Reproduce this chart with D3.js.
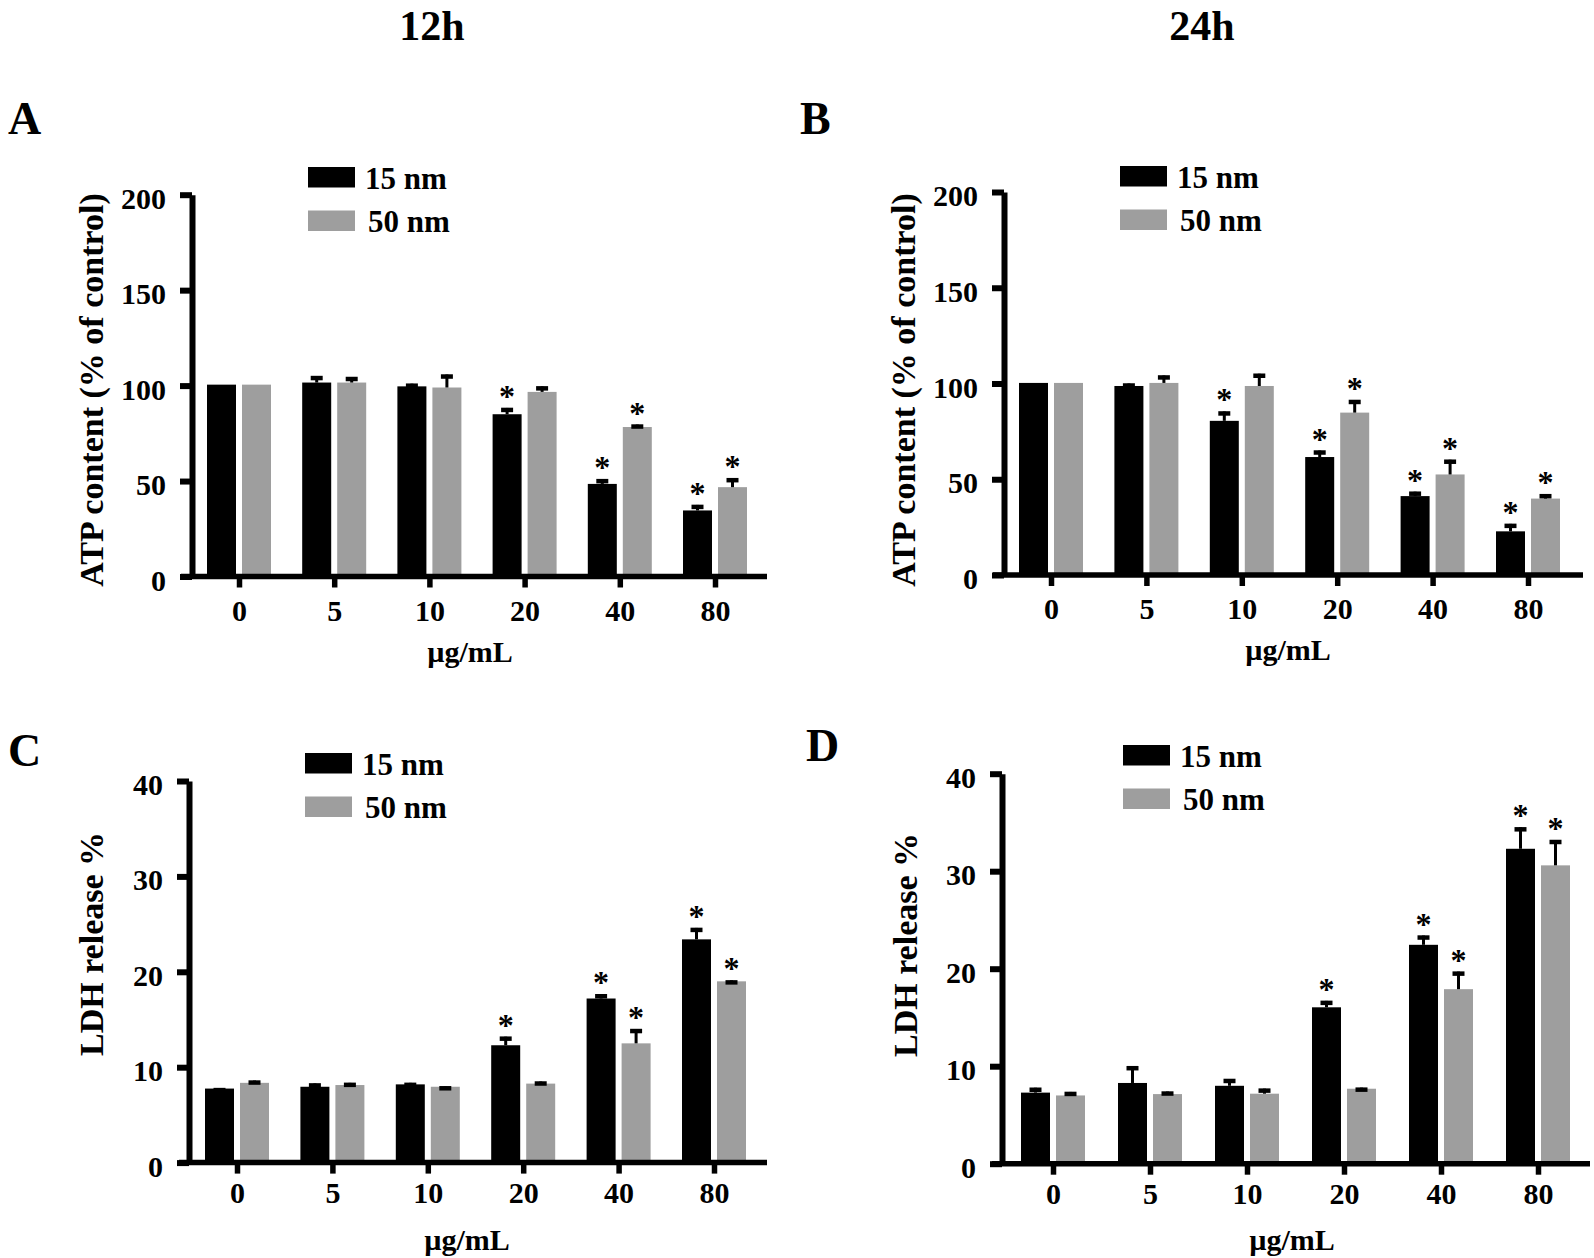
<!DOCTYPE html>
<html>
<head>
<meta charset="utf-8">
<script src="https://cdn.jsdelivr.net/npm/d3@7"></script>
<style>
  html, body { margin: 0; padding: 0; background: #fff; }
  svg { display: block; }
  text { font-family: "Liberation Serif", "Times New Roman", serif; font-weight: bold; fill: #000; }
</style>
</head>
<body>
<svg id="chart" width="1594" height="1258"></svg>
<script>
// ---------------- DATA ----------------
const categories = ["0", "5", "10", "20", "40", "80"];
const seriesNames = ["15 nm", "50 nm"];
const xTitle = "µg/mL";
const columnTitles = ["12h", "24h"];

const atpTicks = [0, 50, 100, 150, 200];
const ldhTicks = [0, 10, 20, 30, 40];

// Panel A: ATP, 12h
const atp12_15 = [100.5, 101.6, 99.6, 85.0, 48.5, 34.6];
const atp12_15_err = [0, 3.4, 1.4, 3.3, 2.5, 2.9];
const atp12_50 = [100.5, 101.6, 99.0, 96.7, 78.3, 46.8];
const atp12_50_err = [0, 2.9, 6.8, 2.9, 1.3, 4.7];
const atp12_15_sig = [false, false, false, true, true, true];
const atp12_50_sig = [false, false, false, false, true, true];

// Panel B: ATP, 24h
const atp24_15 = [100.3, 98.7, 80.5, 61.6, 41.2, 22.8];
const atp24_15_err = [0, 1.3, 4.9, 3.4, 2.3, 3.9];
const atp24_50 = [100.3, 100.3, 98.7, 84.8, 52.5, 39.9];
const atp24_50_err = [0, 3.9, 6.4, 6.6, 7.7, 2.3];
const atp24_15_sig = [false, false, true, true, true, true];
const atp24_50_sig = [false, false, false, true, true, true];

// Panel C: LDH, 12h
const ldh12_15 = [7.76, 7.95, 8.2, 12.3, 17.2, 23.4];
const ldh12_15_err = [0.05, 0.35, 0.16, 0.9, 0.45, 1.2];
const ldh12_50 = [8.36, 8.13, 7.95, 8.28, 12.5, 19.0];
const ldh12_50_err = [0.24, 0.23, 0.05, 0.22, 1.5, 0.1];
const ldh12_15_sig = [false, false, false, true, true, true];
const ldh12_50_sig = [false, false, false, false, true, true];

// Panel D: LDH, 24h
const ldh24_15 = [7.29, 8.28, 7.99, 16.04, 22.45, 32.3];
const ldh24_15_err = [0.5, 1.72, 0.7, 0.66, 0.95, 2.2];
const ldh24_50 = [7.0, 7.14, 7.18, 7.69, 17.9, 30.6];
const ldh24_50_err = [0.36, 0.26, 0.52, 0.11, 1.8, 2.6];
const ldh24_15_sig = [false, false, false, true, true, true];
const ldh24_50_sig = [false, false, false, false, true, true];

// ---------------- LAYOUT ----------------
const colors = ["#000000", "#9e9e9e"];
const panels = [
  { letter: "A", letterX: 8, letterY: 134, yTitle: "ATP content (% of control)", ticks: atpTicks,
    s15: atp12_15, e15: atp12_15_err, s50: atp12_50, e50: atp12_50_err, g15: atp12_15_sig, g50: atp12_50_sig,
    axisX: 192, y0: 576.5, yTop: 194.7, c0: 239, c5: 715, xs: 181, xe: 767, lblPad: 12,
    titleX: 103, titleY: 390, xtX: 470, xtY: 662, legX: 308, legY: 167 },
  { letter: "B", letterX: 800, letterY: 134, yTitle: "ATP content (% of control)", ticks: atpTicks,
    s15: atp24_15, e15: atp24_15_err, s50: atp24_50, e50: atp24_50_err, g15: atp24_15_sig, g50: atp24_50_sig,
    axisX: 1004, y0: 575, yTop: 192, c0: 1051, c5: 1528, xs: 993, xe: 1583, lblPad: 12,
    titleX: 915, titleY: 390, xtX: 1288, xtY: 660, legX: 1120, legY: 166 },
  { letter: "C", letterX: 8, letterY: 766, yTitle: "LDH release %", ticks: ldhTicks,
    s15: ldh12_15, e15: ldh12_15_err, s50: ldh12_50, e50: ldh12_50_err, g15: ldh12_15_sig, g50: ldh12_50_sig,
    axisX: 189, y0: 1162.6, yTop: 781, c0: 237, c5: 714, xs: 179, xe: 767, lblPad: 8,
    titleX: 103, titleY: 944, xtX: 467, xtY: 1250, legX: 305, legY: 753 },
  { letter: "D", letterX: 806, letterY: 761, yTitle: "LDH release %", ticks: ldhTicks,
    s15: ldh24_15, e15: ldh24_15_err, s50: ldh24_50, e50: ldh24_50_err, g15: ldh24_15_sig, g50: ldh24_50_sig,
    axisX: 1002, y0: 1163.7, yTop: 773.7, c0: 1053, c5: 1538, xs: 992, xe: 1590, lblPad: 8,
    titleX: 917, titleY: 945, xtX: 1292, xtY: 1250, legX: 1123, legY: 745 }
];

const svg = d3.select("#chart");

// Column titles
svg.append("text").attr("x", 432).attr("y", 40).attr("text-anchor", "middle")
  .attr("font-size", 42).text(columnTitles[0]);
svg.append("text").attr("x", 1202).attr("y", 40).attr("text-anchor", "middle")
  .attr("font-size", 42).text(columnTitles[1]);

function drawPanel(p) {
  const g = svg.append("g");
  const yMax = p.ticks[p.ticks.length - 1];
  const y = d3.scaleLinear().domain([0, yMax]).range([p.y0, p.yTop]);
  const x = d3.scalePoint().domain(categories).range([p.c0, p.c5]);
  const xs = d3.scaleBand().domain(seriesNames).range([-32, 32]).paddingInner(0.1714);

  const rows = [];
  categories.forEach((c, i) => {
    rows.push({ c, s: seriesNames[0], v: p.s15[i], e: p.e15[i], sig: p.g15[i], col: colors[0] });
    rows.push({ c, s: seriesNames[1], v: p.s50[i], e: p.e50[i], sig: p.g50[i], col: colors[1] });
  });

  // bars
  g.selectAll("rect.bar").data(rows).join("rect")
    .attr("class", "bar")
    .attr("x", d => x(d.c) + xs(d.s))
    .attr("width", xs.bandwidth())
    .attr("y", d => y(d.v))
    .attr("height", d => y(0) - y(d.v))
    .attr("fill", d => d.col);

  // error bars (upper only)
  const eb = rows.filter(d => d.e > 0);
  g.selectAll("line.err").data(eb).join("line")
    .attr("class", "err")
    .attr("x1", d => x(d.c) + xs(d.s) + xs.bandwidth() / 2)
    .attr("x2", d => x(d.c) + xs(d.s) + xs.bandwidth() / 2)
    .attr("y1", d => y(d.v))
    .attr("y2", d => y(d.v + d.e))
    .attr("stroke", "#000").attr("stroke-width", 3);
  g.selectAll("line.cap").data(eb).join("line")
    .attr("class", "cap")
    .attr("x1", d => x(d.c) + xs(d.s) + xs.bandwidth() / 2 - 6)
    .attr("x2", d => x(d.c) + xs(d.s) + xs.bandwidth() / 2 + 6)
    .attr("y1", d => y(d.v + d.e) + 2)
    .attr("y2", d => y(d.v + d.e) + 2)
    .attr("stroke", "#000").attr("stroke-width", 4.5);

  // significance stars
  g.selectAll("text.star").data(rows.filter(d => d.sig)).join("text")
    .attr("class", "star")
    .attr("x", d => x(d.c) + xs(d.s) + xs.bandwidth() / 2)
    .attr("y", d => y(d.v + d.e) - 1)
    .attr("text-anchor", "middle")
    .attr("font-size", 32)
    .text("*");

  // y axis
  const ya = g.append("g").attr("transform", `translate(${p.axisX},0)`)
    .call(d3.axisLeft(y).tickValues(p.ticks).tickSize(12).tickSizeOuter(0).tickPadding(14));
  ya.attr("font-family", null).attr("font-size", null);
  ya.select(".domain").attr("stroke", "#000").attr("stroke-width", 6);
  ya.selectAll(".tick line").attr("stroke", "#000").attr("stroke-width", 6);
  ya.selectAll(".tick text").attr("font-size", 30).attr("dy", "0.45em");

  // x axis
  const xa = g.append("g").attr("transform", `translate(0,${p.y0})`)
    .call(d3.axisBottom(x).tickSize(11).tickSizeOuter(0).tickPadding(p.lblPad));
  xa.attr("font-family", null).attr("font-size", null);
  xa.select(".domain").remove();
  xa.selectAll(".tick line").attr("stroke", "#000").attr("stroke-width", 5.5);
  xa.selectAll(".tick text").attr("font-size", 30);
  xa.append("line").attr("x1", p.xs).attr("x2", p.xe).attr("y1", 0).attr("y2", 0)
    .attr("stroke", "#000").attr("stroke-width", 5.5);

  // titles
  g.append("text")
    .attr("transform", `translate(${p.titleX},${p.titleY}) rotate(-90)`)
    .attr("text-anchor", "middle").attr("font-size", 34).text(p.yTitle);
  g.append("text").attr("x", p.xtX).attr("y", p.xtY).attr("text-anchor", "middle")
    .attr("font-size", 30).text(xTitle);
  g.append("text").attr("x", p.letterX).attr("y", p.letterY).attr("font-size", 46).text(p.letter);

  // legend
  seriesNames.forEach((s, i) => {
    const ly = p.legY + i * 43.5;
    g.append("rect").attr("x", p.legX).attr("y", ly).attr("width", 47).attr("height", 20.5)
      .attr("fill", colors[i]);
    g.append("text").attr("x", p.legX + 57 + i * 3).attr("y", ly + 21.5)
      .attr("font-size", 31).text(s);
  });
}

panels.forEach(drawPanel);
</script>
</body>
</html>
